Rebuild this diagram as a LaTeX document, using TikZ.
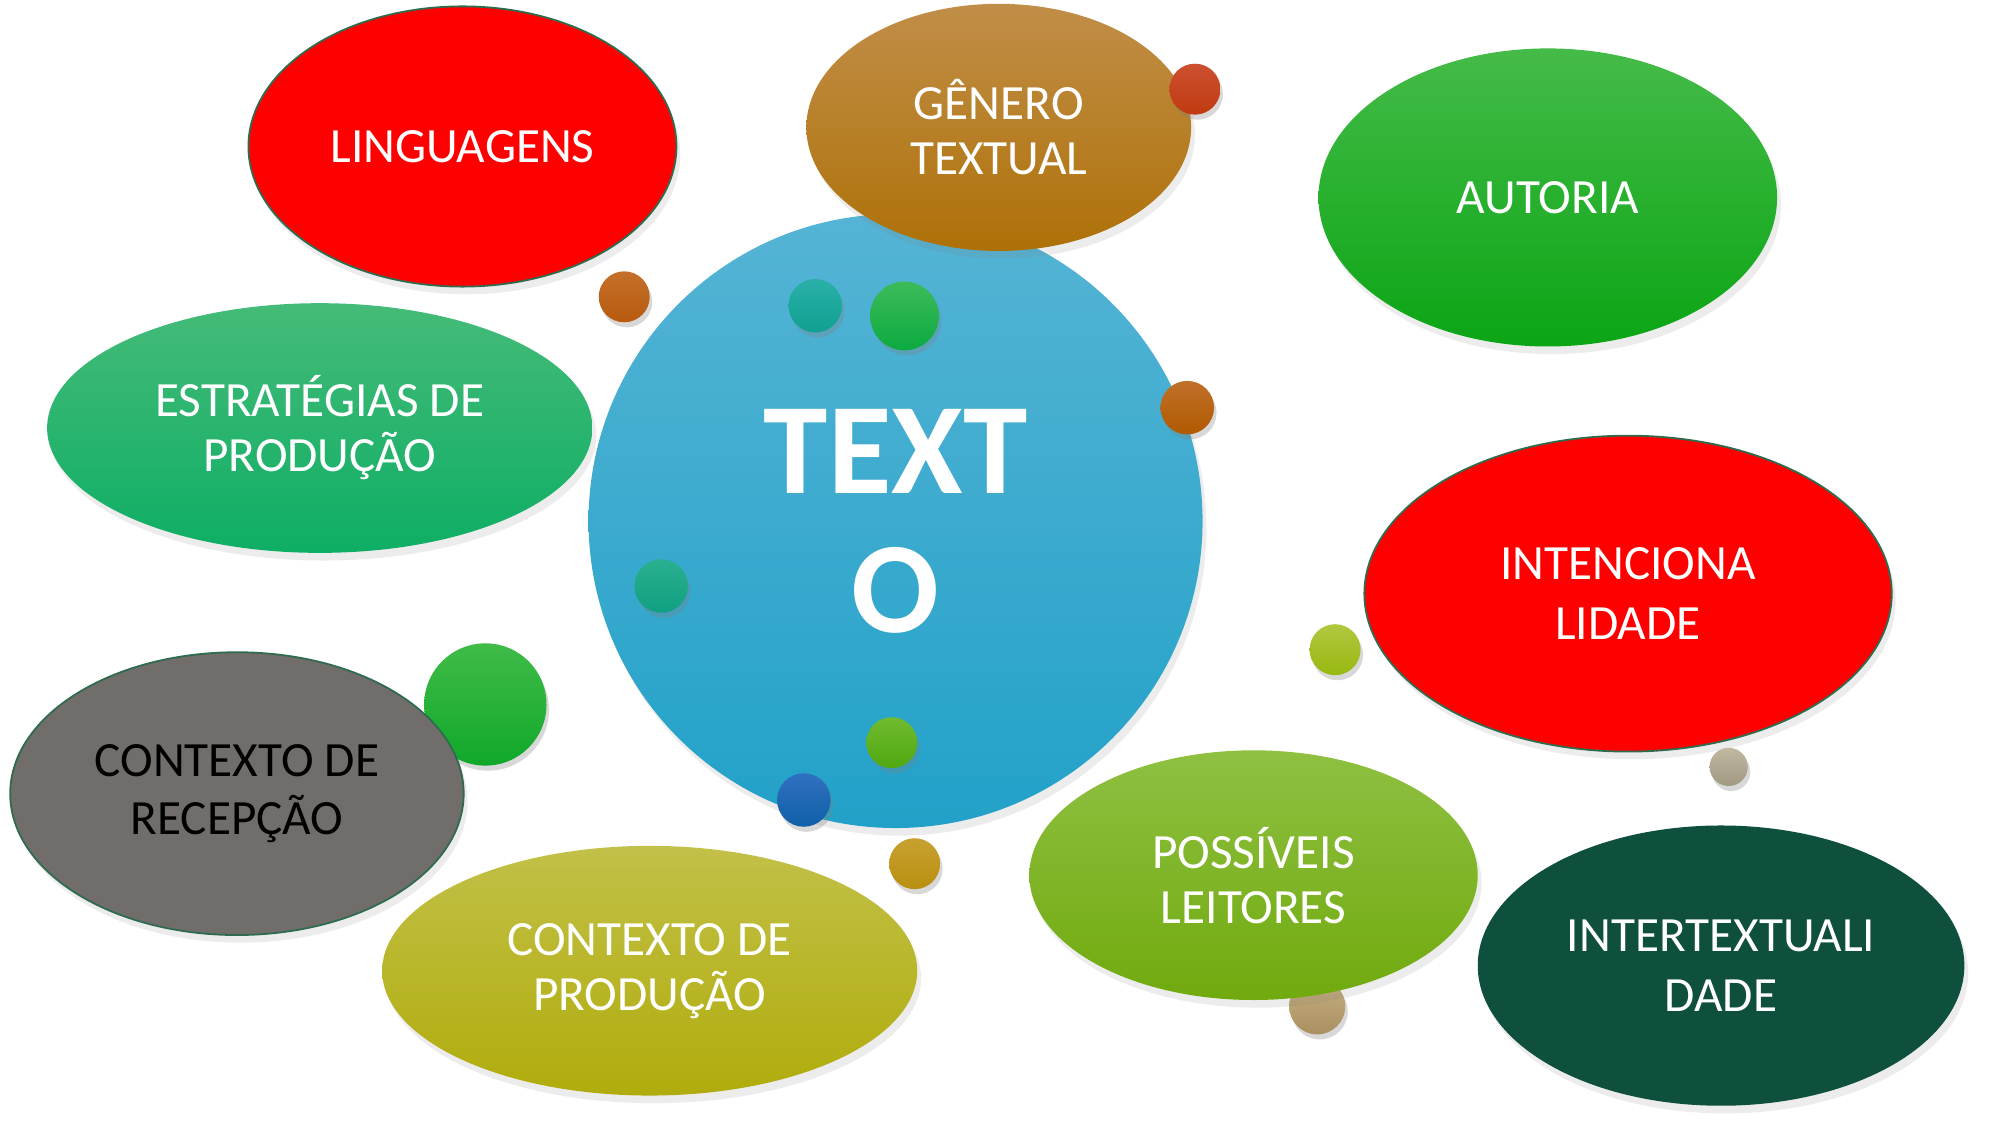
\documentclass[tikz,border=0pt]{standalone}
\usepackage{fontspec}
\setmainfont{Carlito}
\definecolor{rouge}{HTML}{FF0000}
\definecolor{rim}{HTML}{2F6B4E}
\definecolor{slate}{HTML}{716D6B}
\definecolor{pine}{HTML}{0F4F3E}
\usetikzlibrary{shapes.geometric, shadows}
\tikzset{
	bubble/.style={ellipse, inner sep=0pt, align=center, text=white,
		font=\fontsize{11}{12.3}\selectfont,
		drop shadow={shadow xshift=0.3mm, shadow yshift=-0.6mm, opacity=0.15}},
	dot/.style n args={3}{circle, inner sep=0pt, minimum size=#1,
		top color=#2, bottom color=#3,
		drop shadow={shadow xshift=0.2mm, shadow yshift=-0.4mm, opacity=0.3}},
}
\begin{document}
\begin{tikzpicture}[x=0.1mm, y=-0.1mm]
	\useasboundingbox[fill=white] (0,0) rectangle (1570,883);
	% behind the big shapes
	\node[dot={9.6mm}{{rgb,255:red,64;green,187;blue,72}}{{rgb,255:red,16;green,168;blue,42}}] (d7) at (381,553) {};
	\node[dot={4.4mm}{{rgb,255:red,200;green,176;blue,128}}{{rgb,255:red,168;green,144;blue,96}}] (d13) at (1034,790) {};
	% centre
	\node[circle, inner sep=0pt, minimum size=48.2mm, align=center, text=white,
		top color={rgb,255:red,85;green,180;blue,213}, bottom color={rgb,255:red,34;green,161;blue,200},
		font=\bfseries\fontsize{29}{31}\selectfont,
		drop shadow={shadow xshift=0.3mm, shadow yshift=-0.6mm, opacity=0.15}] (texto) at (703,409) {TEXT\\O};
	% ring of topics
	\node[bubble, fill=rouge, draw=rim, line width=0.4pt, minimum width=33.6mm, minimum height=22mm] (ling) at (363,115) {LINGUAGENS};
	\node[bubble, top color={rgb,255:red,193;green,142;blue,72}, bottom color={rgb,255:red,174;green,113;blue,8}, minimum width=30.2mm, minimum height=19.4mm] (genero) at (784,100) {GÊNERO\\TEXTUAL};
	\node[bubble, top color={rgb,255:red,69;green,187;blue,72}, bottom color={rgb,255:red,11;green,165;blue,21}, minimum width=36mm, minimum height=23.4mm] (autoria) at (1215,155) {AUTORIA};
	\node[bubble, top color={rgb,255:red,69;green,187;blue,120}, bottom color={rgb,255:red,14;green,174;blue,101}, minimum width=42.8mm, minimum height=19.6mm] (estrat) at (251,336) {ESTRATÉGIAS DE\\PRODUÇÃO};
	\node[bubble, fill=rouge, draw=rim, line width=0.4pt, minimum width=41.4mm, minimum height=24.8mm, font=\fontsize{11}{13.3}\selectfont] (intenc) at (1278,466) {INTENCIONA\\LIDADE};
	\node[bubble, fill=slate, draw=rim, line width=0.4pt, text=black, minimum width=35.6mm, minimum height=22.2mm, font=\fontsize{11}{13}\selectfont] (recep) at (186,623) {CONTEXTO DE\\RECEPÇÃO};
	\node[bubble, top color={rgb,255:red,194;green,192;blue,72}, bottom color={rgb,255:red,176;green,172;blue,12}, minimum width=42mm, minimum height=19.6mm] (prod) at (510,762) {CONTEXTO DE\\PRODUÇÃO};
	\node[bubble, top color={rgb,255:red,143;green,192;blue,66}, bottom color={rgb,255:red,112;green,170;blue,14}, minimum width=35.2mm, minimum height=19.6mm] (leit) at (984,687) {POSSÍVEIS\\LEITORES};
	\node[bubble, fill=pine, minimum width=38.2mm, minimum height=22mm, font=\fontsize{11}{13.3}\selectfont] (inter) at (1351,758) {INTERTEXTUALI\\DADE};
	% small dots
	\node[dot={4mm}{{rgb,255:red,196;green,112;blue,42}}{{rgb,255:red,184;green,90;blue,15}}] (d1) at (490,233) {};
	\node[dot={4.2mm}{{rgb,255:red,42;green,176;blue,168}}{{rgb,255:red,16;green,160;blue,144}}] (d2) at (640,240) {};
	\node[dot={5.4mm}{{rgb,255:red,61;green,187;blue,90}}{{rgb,255:red,12;green,170;blue,64}}] (d3) at (710,248) {};
	\node[dot={4mm}{{rgb,255:red,204;green,80;blue,48}}{{rgb,255:red,192;green,58;blue,16}}] (d4) at (938,70) {};
	\node[dot={4.2mm}{{rgb,255:red,192;green,112;blue,42}}{{rgb,255:red,176;green,90;blue,0}}] (d5) at (932,320) {};
	\node[dot={4.2mm}{{rgb,255:red,42;green,176;blue,144}}{{rgb,255:red,16;green,160;blue,128}}] (d6) at (519,460) {};
	\node[dot={4mm}{{rgb,255:red,112;green,187;blue,48}}{{rgb,255:red,80;green,168;blue,16}}] (d8) at (700,583) {};
	\node[dot={4.2mm}{{rgb,255:red,48;green,112;blue,192}}{{rgb,255:red,16;green,96;blue,168}}] (d9) at (631,628) {};
	\node[dot={4mm}{{rgb,255:red,200;green,160;blue,48}}{{rgb,255:red,184;green,144;blue,16}}] (d10) at (718,678) {};
	\node[dot={4mm}{{rgb,255:red,176;green,200;blue,64}}{{rgb,255:red,152;green,184;blue,16}}] (d11) at (1048,510) {};
	\node[dot={3mm}{{rgb,255:red,192;green,184;blue,160}}{{rgb,255:red,160;green,152;blue,128}}] (d12) at (1357,602) {};
\end{tikzpicture}
\end{document}
